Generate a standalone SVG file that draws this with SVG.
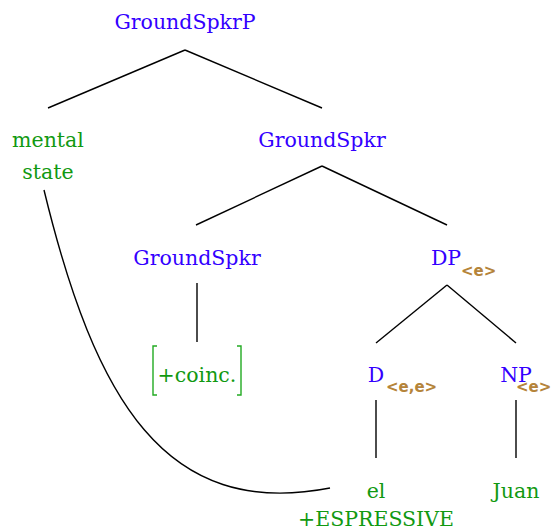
<svg xmlns="http://www.w3.org/2000/svg" width="552" height="531" viewBox="0 0 552 531">
<style>
.cat{font-family:"DejaVu Serif","Liberation Serif",serif;font-size:20.5px;fill:#3300ff;text-anchor:middle}
.lex{font-family:"DejaVu Serif","Liberation Serif",serif;font-size:20.5px;fill:#119911;text-anchor:middle}
.typ{font-family:"DejaVu Sans","Liberation Sans",sans-serif;font-size:15px;font-weight:bold;fill:#b5843a}
.edge{stroke:#000;stroke-width:1.4;fill:none}
.br{stroke:#22aa22;stroke-width:1.4;fill:none}
</style>
<rect width="552" height="531" fill="#fff"/>
<g id="connectors">
<line class="edge" x1="185" y1="50" x2="48" y2="108"/>
<line class="edge" x1="185" y1="50" x2="322" y2="108"/>
<line class="edge" x1="322" y1="166" x2="196" y2="225"/>
<line class="edge" x1="322" y1="166" x2="447" y2="225"/>
<line class="edge" x1="197" y1="283" x2="197" y2="342"/>
<line class="edge" x1="447" y1="285" x2="376" y2="343"/>
<line class="edge" x1="447" y1="285" x2="516" y2="343"/>
<line class="edge" x1="376" y1="400" x2="376" y2="458"/>
<line class="edge" x1="516" y1="400" x2="516" y2="458"/>
<path class="edge" stroke-width="2.2" d="M44,190 C95,400 165,520 330,488"/>
</g>
<g id="n-groundspkrp"><text class="cat" x="185" y="29">GroundSpkrP</text></g>
<g id="n-mental"><text class="lex" x="48" y="147">mental</text><text class="lex" x="48" y="179">state</text></g>
<g id="n-groundspkr1"><text class="cat" x="322" y="147">GroundSpkr</text></g>
<g id="n-groundspkr2"><text class="cat" x="197" y="265">GroundSpkr</text></g>
<g id="n-dp"><text class="cat" x="446" y="265">DP</text><text class="typ" x="461" y="276">&lt;e&gt;</text></g>
<g id="n-coinc"><path class="br" d="M157,346 H153 V395 H157 M237,346 H241 V395 H237"/><text class="lex" x="197" y="382">+coinc.</text></g>
<g id="n-d"><text class="cat" x="376" y="382">D</text><text class="typ" x="386" y="392">&lt;e,e&gt;</text></g>
<g id="n-np"><text class="cat" x="516" y="382">NP</text><text class="typ" x="516" y="392">&lt;e&gt;</text></g>
<g id="n-el"><text class="lex" x="376" y="498">el</text><text class="lex" x="376" y="526">+ESPRESSIVE</text></g>
<g id="n-juan"><text class="lex" x="516" y="498">Juan</text></g>
</svg>
